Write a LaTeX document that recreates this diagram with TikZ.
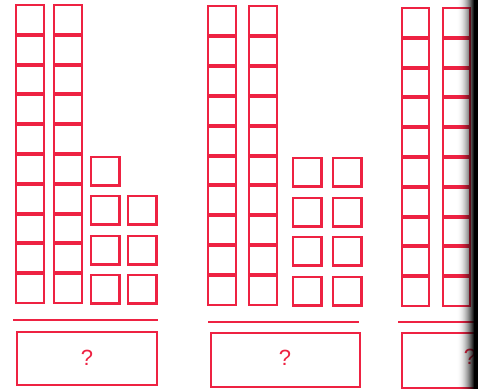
\documentclass[tikz,border=0pt]{standalone}
\usepackage{fontspec}
\setsansfont{Liberation Sans}
\definecolor{ink}{RGB}{238,34,66}
\tikzset{
  cellcol/.style={draw=ink, line width=2.1pt},
  sep/.style={draw=ink, line width=4pt},
  unit/.style={draw=ink, line width=2.1pt},
  rule/.style={draw=ink, line width=1.8pt},
  ansbox/.style={draw=ink, line width=2pt},
  qmark/.style={text=ink, font=\sffamily\fontsize{22}{24}\selectfont, inner sep=0pt}
}
\newcommand{\tencol}[4]{% x1 x2 top bottom
  \foreach \k in {1,...,9}{
    \draw[sep] (#1,{#3+\k*(#4-#3)/10}) -- (#2,{#3+\k*(#4-#3)/10});
  }
  \draw[cellcol] (#1,#3) rectangle (#2,#4);
}
\newcommand{\unitsq}[2]{% x y (top-left)
  \draw[unit] (#1,#2) rectangle ++(28.5,28.5);
}
\begin{document}
\begin{tikzpicture}[x=1pt,y=-1pt]
\useasboundingbox (0,0) rectangle (478,389);
\clip (0,0) rectangle (478,389);
\fill[white] (0,0) rectangle (478,389);
% panel 1
\tencol{16}{44}{5}{303}
\tencol{54}{82}{5}{303}
\unitsq{91}{157}
\unitsq{91}{196}\unitsq{128}{196}
\unitsq{91}{236}\unitsq{128}{236}
\unitsq{91}{275}\unitsq{128}{275}
\draw[rule] (13,320) -- (158,320);
\draw[ansbox] (17,332) rectangle (157,385);
\node[qmark] (q1) at (87,358) {?};
% panel 2
\tencol{208}{236}{6}{305}
\tencol{249}{277}{6}{305}
\unitsq{293}{158}\unitsq{333}{158}
\unitsq{293}{198}\unitsq{333}{198}
\unitsq{293}{237}\unitsq{333}{237}
\unitsq{293}{277}\unitsq{333}{277}
\draw[rule] (208,322) -- (359,322);
\draw[ansbox] (211,333) rectangle (360,387);
\node[qmark] (q2) at (285,358) {?};
% panel 3
\tencol{402}{429}{8}{306}
\tencol{443}{470}{8}{306}
\draw[rule] (398,322) -- (500,322);
\draw[ansbox] (402,333) rectangle (560,388);
\node[qmark] (q3) at (470,357) {?};
% scan shadow at right edge
\foreach \i in {0,...,21}{
  \fill[black, opacity={min(1,(\i/18)^2)}] ({456+\i},0) rectangle ({457.2+\i},389);
}
\end{tikzpicture}
\end{document}
